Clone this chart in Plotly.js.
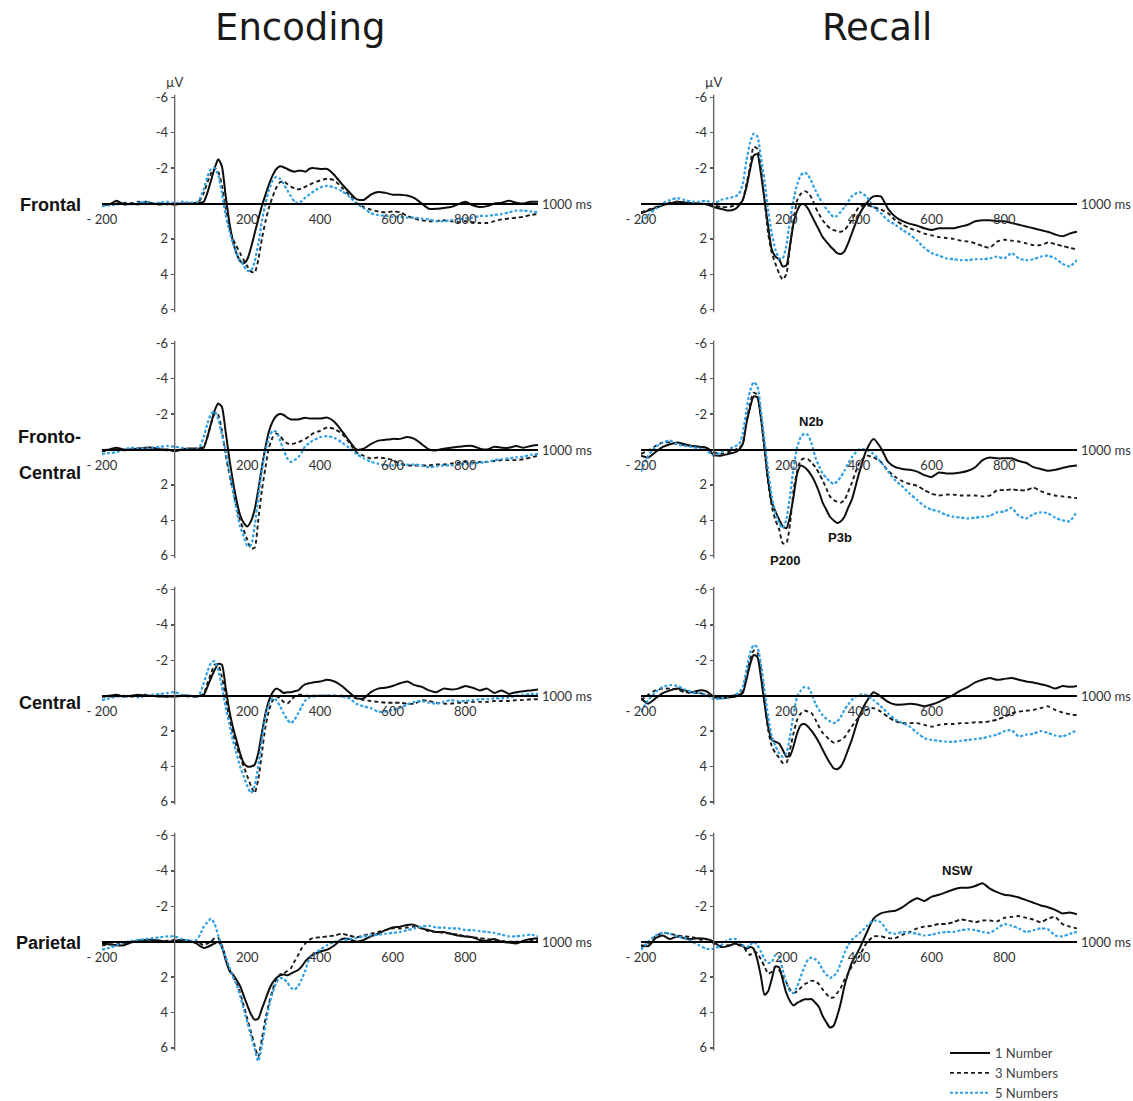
<!DOCTYPE html>
<html>
<head>
<meta charset="utf-8">
<script src="https://cdn.plot.ly/plotly-3.0.1.min.js"></script>
<style>
html,body{margin:0;padding:0;background:#fff;width:1133px;height:1101px;overflow:hidden;}
#chart{width:1133px;height:1125px;display:block;}
</style>
</head>
<body>
<div id="chart"></div>
<script>
// ---- time axis (ms) ----
const timeMs = [-200,-180,-160,-140,-120,-100,-80,-60,-40,-20,0,20,40,60,
 70,80,90,100,110,120,130,140,150,160,170,180,190,200,210,220,230,240,250,260,270,280,290,300,310,320,330,340,350,360,370,380,
 400,420,440,460,480,500,520,540,560,580,600,620,640,660,680,700,720,740,760,780,800,820,840,860,880,900,920,940,960,980,1000];

const seriesNames = ['1 Number', '3 Numbers', '5 Numbers'];
const columnTitles = ['Encoding', 'Recall'];
const rowLabels = [['Frontal'], ['Fronto-', 'Central'], ['Central'], ['Parietal']];
const yTickVals = [-6, -4, -2, 2, 4, 6];
const yTickText = ['-6', '-4', '-2', '2', '4', '6'];
const xTickVals = [-200, 200, 400, 600, 800];
const xTickText = ['- 200', '200', '400', '600', '800'];

// ---- Encoding, Frontal ----
const encFrontal1 = [0.05,0.05,-0.15,0.05,0,0.05,-0.1,0,0.05,0,0.05,0,0,0,
 -0.05,-0.1,-0.6,-1.3,-2.0,-2.5,-2.1,-0.5,1.0,2.1,2.8,3.25,3.38,3.15,2.5,1.7,0.9,0.15,-0.5,-1.1,-1.6,-1.95,-2.1,-2.05,-1.95,-1.85,-1.8,-1.85,-1.85,-1.8,-1.95,-2.0,
 -1.95,-1.95,-1.6,-1.1,-0.65,-0.25,-0.2,-0.5,-0.65,-0.6,-0.5,-0.5,-0.45,-0.3,0,0.3,0.3,0.25,0.2,0.05,-0.1,0.1,0.2,0.15,0,-0.05,-0.15,-0.05,0,-0.1,-0.1];
const encFrontal3 = [0.1,0.05,0,-0.05,0,-0.1,-0.05,0,0,0.05,0.05,0,0,-0.05,
 -0.2,-0.6,-1.2,-1.7,-2.0,-1.8,-1.0,0.2,1.3,2.0,2.4,2.8,3.2,3.55,3.85,3.9,3.2,2.0,1.0,0.2,-0.4,-0.9,-1.2,-1.25,-1.1,-0.95,-0.85,-0.8,-0.85,-0.95,-1.05,-1.15,
 -1.3,-1.4,-1.3,-0.9,-0.5,-0.05,0.2,0.35,0.45,0.5,0.45,0.5,0.7,0.85,0.95,1.0,1.0,0.95,1.0,1.05,1.0,1.05,1.1,1.1,1.0,0.9,0.85,0.8,0.75,0.65,0.6];
const encFrontal5 = [0.15,0.1,0.05,0,0.05,-0.05,-0.1,0,-0.05,-0.1,0,-0.1,-0.05,-0.05,
 -0.3,-0.8,-1.5,-1.95,-2.0,-1.6,-0.6,0.6,1.5,2.2,2.8,3.2,3.5,3.8,3.8,3.3,2.3,1.0,0.0,-0.8,-1.3,-1.5,-1.4,-1.1,-0.75,-0.4,-0.1,0.0,-0.15,-0.35,-0.5,-0.65,
 -0.9,-1.0,-0.9,-0.7,-0.4,0,0.25,0.55,0.65,0.7,0.75,0.75,0.8,0.8,0.85,0.9,1.0,1.0,0.95,0.9,0.85,0.8,0.7,0.7,0.65,0.6,0.5,0.4,0.4,0.45,0.5];

// ---- Recall, Frontal ----
const recFrontal1 = [0.55,0.4,0.25,0.1,0,-0.1,-0.05,0,0,0.05,0.2,0.3,0.4,0.3,
 0.1,-0.2,-0.9,-1.9,-2.7,-2.8,-1.7,-0.2,1.3,2.6,3.0,3.15,3.55,3.5,2.4,1.1,0.4,0.05,0.05,0.3,0.7,1.1,1.5,1.9,2.15,2.4,2.6,2.8,2.85,2.7,2.25,1.7,
 0.65,0.0,-0.4,-0.4,0.3,0.75,1.0,1.15,1.25,1.4,1.5,1.4,1.4,1.4,1.3,1.2,1.0,0.95,0.95,1.0,1.0,1.1,1.2,1.3,1.4,1.5,1.6,1.75,1.85,1.7,1.6];
const recFrontal3 = [0.5,0.35,0.2,0.05,-0.05,-0.1,-0.05,0,0,0.05,0.1,0.2,0.2,0.1,
 0.0,-0.2,-1.1,-2.05,-3.2,-3.1,-2.0,-0.2,1.7,2.8,3.4,3.95,4.3,4.0,2.4,0.95,-0.2,-0.55,-0.7,-0.6,-0.3,0.2,0.6,0.95,1.2,1.4,1.5,1.55,1.6,1.5,1.25,0.95,
 0.2,0.1,0.2,0.35,0.55,0.95,1.2,1.4,1.55,1.7,1.8,1.9,1.95,2.0,2.1,2.15,2.25,2.4,2.5,2.15,2.05,2.1,2.15,2.25,2.35,2.35,2.2,2.3,2.4,2.5,2.6];
const recFrontal5 = [1.1,0.65,0.3,0,-0.2,-0.3,-0.2,-0.1,-0.1,-0.15,0,-0.2,-0.3,-0.4,
 -0.55,-1.1,-2.4,-3.4,-3.95,-3.8,-2.6,-1.3,0.4,1.7,2.6,3.1,3.1,2.4,0.95,-0.2,-1.1,-1.6,-1.75,-1.6,-1.2,-0.75,-0.35,0.0,0.3,0.55,0.75,0.7,0.45,0.2,-0.1,-0.4,
 -0.65,-0.4,0.2,0.55,0.95,1.2,1.5,1.75,2.1,2.5,2.8,2.95,3.1,3.15,3.2,3.2,3.15,3.15,3.1,3.0,3.1,2.8,3.1,3.2,3.15,3.0,2.95,3.1,3.4,3.55,3.2];

// ---- Encoding, Fronto-Central ----
const encFrontoCentral1 = [0.05,0,-0.1,0,0,-0.05,-0.1,-0.1,0,0,0.1,0,-0.05,-0.05,
 -0.05,-0.1,-0.7,-1.45,-2.2,-2.6,-2.4,-1.05,0.45,1.75,2.85,3.7,4.15,4.35,4.05,3.4,2.3,1.0,-0.15,-1.05,-1.6,-1.9,-2.0,-1.95,-1.8,-1.7,-1.7,-1.7,-1.75,-1.8,-1.75,-1.75,
 -1.75,-1.8,-1.55,-1.05,-0.5,0.0,-0.05,-0.3,-0.5,-0.55,-0.6,-0.6,-0.7,-0.6,-0.3,0.0,0.05,-0.05,-0.1,-0.15,-0.2,-0.2,-0.05,0.0,-0.15,-0.1,-0.1,-0.2,-0.1,-0.2,-0.25];
const encFrontoCentral3 = [0.1,0.05,0,0.05,0,-0.05,-0.05,0,0,0.05,0.05,0,0,-0.05,
 -0.1,-0.15,-0.7,-1.45,-2.0,-1.95,-1.05,0.25,1.35,2.3,3.2,4.0,4.55,5.1,5.6,5.55,4.0,2.3,1.0,-0.15,-0.7,-0.9,-0.75,-0.5,-0.35,-0.3,-0.35,-0.4,-0.5,-0.6,-0.75,-0.9,
 -1.05,-1.25,-1.15,-0.9,-0.4,0.15,0.35,0.5,0.45,0.5,0.6,0.8,0.9,0.9,0.9,0.9,0.85,0.85,0.8,0.75,0.7,0.75,0.7,0.7,0.65,0.6,0.6,0.6,0.55,0.45,0.35];
const encFrontoCentral5 = [0.25,0.2,0.15,0,-0.1,-0.05,-0.05,-0.1,-0.15,-0.2,-0.15,-0.1,0,0,
 -0.2,-0.7,-1.45,-2.0,-2.15,-1.7,-0.85,0.05,1.2,2.3,3.4,4.35,4.9,5.45,5.4,4.35,2.7,1.2,0.05,-0.7,-1.05,-1.0,-0.5,0.05,0.5,0.7,0.6,0.45,0.15,-0.2,-0.35,-0.5,
 -0.7,-0.75,-0.65,-0.4,-0.1,0.25,0.5,0.7,0.8,0.9,0.9,0.85,0.85,0.85,0.9,1.0,0.95,0.9,0.9,0.85,0.8,0.8,0.75,0.7,0.6,0.55,0.5,0.45,0.4,0.3,0.25];

// ---- Recall, Fronto-Central ----
const recFrontoCentral1 = [0.35,0.45,0.15,-0.15,-0.3,-0.4,-0.3,-0.2,-0.15,-0.1,0.3,0.35,0.25,0.15,
 0.0,-0.3,-1.45,-2.35,-3.0,-2.95,-1.8,-0.1,1.75,3.0,3.5,3.95,4.35,4.45,3.8,2.65,1.35,0.9,1.0,1.2,1.5,1.9,2.4,3.0,3.4,3.8,4.0,4.15,4.05,3.8,3.3,2.85,
 1.35,0.05,-0.6,-0.1,0.7,1.0,1.1,1.15,1.25,1.45,1.55,1.3,1.35,1.35,1.3,1.2,1.0,0.6,0.45,0.5,0.5,0.5,0.65,0.75,1.0,1.1,1.2,1.15,1.05,0.95,0.9];
const recFrontoCentral3 = [0.25,0.05,-0.2,-0.4,-0.4,-0.3,-0.25,-0.2,-0.15,-0.1,0.15,0.25,0.15,0,
 -0.1,-0.3,-1.6,-2.55,-3.2,-3.1,-1.8,0.0,1.9,3.2,4.0,4.5,5.3,5.3,4.2,2.3,1.2,0.6,0.5,0.55,0.75,1.0,1.35,1.75,2.2,2.65,2.85,2.95,3.0,2.85,2.4,1.9,
 0.8,0.35,0.45,0.7,1.2,1.55,1.8,1.95,2.05,2.3,2.5,2.6,2.55,2.55,2.6,2.6,2.6,2.65,2.6,2.3,2.3,2.25,2.3,2.3,2.15,2.35,2.5,2.6,2.65,2.7,2.75];
const recFrontoCentral5 = [1.25,0.35,-0.15,-0.4,-0.5,-0.3,-0.2,-0.15,-0.05,0.05,0.35,0.15,0,-0.2,
 -0.3,-0.9,-2.2,-3.3,-3.8,-3.6,-2.2,-0.5,1.2,2.65,3.6,4.15,4.45,3.95,2.65,1.0,-0.15,-0.7,-0.9,-0.8,-0.3,0.45,0.95,1.35,1.6,1.8,1.95,1.8,1.55,1.2,0.8,0.45,
 0.0,0.0,0.25,0.7,1.25,1.75,2.1,2.5,2.85,3.2,3.4,3.5,3.7,3.8,3.85,3.9,3.85,3.8,3.75,3.55,3.5,3.3,3.75,3.9,3.65,3.55,3.6,3.85,4.0,4.05,3.5];

// ---- Encoding, Central ----
const encCentral1 = [0.05,0,-0.05,0.05,0,-0.05,0,0,0.05,0.05,0.05,0,0,0.05,
 0.0,-0.05,-0.5,-1.0,-1.45,-1.8,-1.75,-0.5,0.8,1.75,2.5,3.25,3.8,4.0,4.0,3.9,3.25,2.1,1.0,0.25,-0.2,-0.4,-0.3,-0.15,-0.2,-0.2,-0.25,-0.3,-0.5,-0.65,-0.7,-0.75,
 -0.8,-0.9,-0.8,-0.55,-0.2,0.15,0.15,-0.2,-0.4,-0.45,-0.55,-0.7,-0.8,-0.6,-0.5,-0.3,-0.2,-0.4,-0.35,-0.4,-0.55,-0.45,-0.3,-0.4,-0.15,-0.3,-0.1,-0.2,-0.25,-0.3,-0.35];
const encCentral3 = [0.05,0.05,0,0,0.05,0,-0.05,0,0,0.05,0,0,0.05,0.05,
 0.0,-0.1,-0.7,-1.25,-1.75,-1.75,-1.05,0.05,1.2,2.1,2.85,3.45,4.0,4.55,5.1,5.5,4.75,3.25,1.75,0.8,0.25,0.05,0.15,0.35,0.45,0.25,0.05,-0.05,-0.05,0.0,0.0,0.0,
 0,0,0,0,0.05,0.15,0.25,0.3,0.35,0.4,0.4,0.4,0.45,0.45,0.25,0.3,0.4,0.45,0.45,0.4,0.4,0.35,0.35,0.35,0.3,0.3,0.3,0.25,0.25,0.2,0.2];
const encCentral5 = [0.25,0.15,0.05,0.05,0,0.1,0,-0.05,-0.1,-0.15,-0.2,-0.05,0,0.05,
 -0.15,-0.7,-1.35,-1.85,-1.95,-1.45,-0.5,0.6,1.55,2.5,3.25,4.0,4.55,5.1,5.5,5.1,4.0,2.5,1.2,0.45,0.15,0.25,0.6,1.0,1.35,1.55,1.35,1.0,0.6,0.25,0.1,0.05,
 0,0,0,0.05,0.15,0.45,0.6,0.7,0.9,0.9,0.8,0.7,0.5,0.35,0.3,0.4,0.45,0.35,0.25,0.3,0.3,0.25,0.2,0.2,0.15,0.15,0.1,0,-0.05,-0.1,-0.1];

// ---- Recall, Central ----
const recCentral1 = [0.15,0.45,0.15,-0.15,-0.3,-0.4,-0.3,-0.2,-0.3,-0.25,0.05,0.15,0.1,0.05,
 -0.05,-0.15,-0.9,-1.75,-2.3,-2.2,-1.05,0.45,1.75,2.5,2.6,2.7,3.05,3.45,3.4,2.85,2.1,1.65,1.6,1.75,2.0,2.3,2.65,3.05,3.45,3.8,4.1,4.15,4.0,3.6,3.05,2.5,
 1.2,0.35,-0.2,0.05,0.35,0.5,0.5,0.45,0.5,0.6,0.5,0.35,0.15,-0.05,-0.3,-0.5,-0.75,-0.9,-1.0,-0.9,-0.95,-1.0,-0.9,-0.8,-0.75,-0.65,-0.55,-0.4,-0.55,-0.5,-0.55];
const recCentral3 = [0.25,-0.05,-0.3,-0.4,-0.4,-0.35,-0.2,-0.15,-0.15,-0.05,0.1,0.1,0.05,-0.05,
 -0.1,-0.25,-1.1,-2.0,-2.55,-2.45,-1.45,0.25,1.95,2.85,3.25,3.5,3.8,3.8,3.05,2.1,1.35,1.0,0.85,0.9,1.0,1.35,1.75,2.1,2.3,2.5,2.65,2.6,2.5,2.35,2.05,1.75,
 1.2,0.8,0.7,0.9,1.2,1.45,1.55,1.55,1.55,1.65,1.75,1.65,1.6,1.6,1.55,1.55,1.5,1.5,1.45,1.35,1.2,1.0,0.9,0.85,0.8,0.7,0.6,0.8,0.95,1.05,1.1];
const recCentral5 = [0.9,0.25,-0.2,-0.5,-0.6,-0.55,-0.35,-0.2,-0.15,-0.05,0.2,0.15,0.05,-0.05,
 -0.2,-0.5,-1.45,-2.4,-2.85,-2.75,-1.8,-0.3,1.2,2.3,2.85,3.25,3.45,3.25,2.3,1.0,0.05,-0.3,-0.5,-0.45,-0.1,0.45,0.8,1.1,1.3,1.45,1.55,1.45,1.2,0.8,0.5,0.25,
 -0.05,-0.05,0.25,0.6,1.0,1.35,1.55,1.75,2.1,2.4,2.5,2.55,2.6,2.6,2.55,2.5,2.45,2.4,2.3,2.2,2.0,1.95,2.3,2.2,2.15,2.0,2.1,2.25,2.3,2.15,1.95];

// ---- Encoding, Parietal ----
const encParietal1 = [0.1,0.15,0.2,0.2,0.05,-0.05,-0.1,-0.1,-0.05,0,-0.05,-0.1,-0.05,0.1,
 0.25,0.35,0.3,0.2,0.1,0.0,0.3,1.0,1.6,1.85,2.15,2.5,3.05,3.6,4.1,4.4,4.35,3.8,3.25,2.7,2.3,2.05,1.9,1.85,1.9,1.8,1.7,1.6,1.4,1.1,0.9,0.75,
 0.55,0.45,0.2,-0.15,-0.15,0.0,-0.1,-0.3,-0.45,-0.65,-0.8,-0.85,-0.95,-0.95,-0.75,-0.65,-0.55,-0.55,-0.45,-0.35,-0.3,-0.25,-0.1,-0.05,-0.15,0.0,0.05,0.1,-0.05,-0.15,-0.2];
const encParietal3 = [0.2,0.15,0.15,0.1,0,-0.05,-0.05,-0.05,-0.05,-0.05,-0.1,-0.1,0,0.05,
 0.1,0.2,0.1,0.0,-0.2,-0.2,0.2,0.85,1.6,1.95,2.3,2.9,3.6,4.35,5.1,5.85,6.5,5.5,4.35,3.45,2.7,2.15,1.85,1.8,1.65,1.5,1.1,0.75,0.35,0.1,-0.1,-0.2,
 -0.25,-0.3,-0.35,-0.45,-0.35,-0.25,-0.35,-0.45,-0.55,-0.65,-0.75,-0.75,-0.8,-0.85,-0.75,-0.6,-0.55,-0.5,-0.45,-0.4,-0.3,-0.25,-0.2,-0.15,-0.1,-0.05,0,0,0,-0.05,-0.1];
const encParietal5 = [0.45,0.35,0.2,0.05,-0.05,-0.1,-0.15,-0.2,-0.25,-0.3,-0.3,-0.15,-0.05,-0.1,
 -0.4,-0.85,-1.1,-1.3,-1.0,-0.35,0.3,0.85,1.4,1.95,2.4,3.05,3.8,4.55,5.3,6.05,6.75,5.85,4.7,3.6,2.85,2.3,2.05,2.1,2.3,2.6,2.7,2.5,2.1,1.6,1.0,0.75,
 0.45,0.2,0.0,-0.05,-0.15,-0.2,-0.3,-0.35,-0.4,-0.45,-0.5,-0.55,-0.65,-0.75,-0.85,-0.9,-0.8,-0.8,-0.75,-0.75,-0.65,-0.65,-0.6,-0.55,-0.5,-0.4,-0.3,-0.3,-0.35,-0.4,-0.3];

// ---- Recall, Parietal ----
const recParietal1 = [0.2,0.25,-0.2,-0.35,-0.15,-0.3,-0.2,-0.15,-0.2,-0.15,0,0.3,0.25,0.1,
 0.2,0.25,0.4,0.3,0.4,1.0,1.95,3.0,2.8,2.1,1.4,1.45,2.15,2.9,3.35,3.6,3.45,3.35,3.25,3.25,3.25,3.45,3.7,4.2,4.55,4.85,4.75,4.2,3.45,2.5,1.8,1.2,
 0.45,-0.45,-1.3,-1.6,-1.7,-1.75,-1.95,-2.25,-2.45,-2.3,-2.55,-2.65,-2.8,-2.95,-3.05,-3.05,-3.15,-3.3,-3.0,-2.8,-2.65,-2.6,-2.5,-2.35,-2.2,-2.05,-1.95,-1.8,-1.6,-1.65,-1.55];
const recParietal3 = [0.3,0.1,-0.3,-0.5,-0.45,-0.35,-0.3,-0.25,-0.15,0,0.1,0.25,0.2,0.1,
 0.15,0.2,0.55,0.75,0.55,0.65,1.0,1.4,1.8,1.7,1.4,1.6,1.95,2.3,2.7,2.9,2.8,2.6,2.4,2.3,2.2,2.25,2.4,2.7,2.95,3.15,3.15,2.9,2.6,2.15,1.8,1.4,
 0.85,0.1,-0.3,-0.3,-0.2,-0.2,-0.4,-0.55,-0.75,-0.85,-0.9,-1.0,-1.0,-1.1,-1.25,-1.2,-1.1,-1.2,-1.2,-1.15,-1.35,-1.4,-1.45,-1.35,-1.25,-1.1,-1.3,-1.4,-1.0,-0.85,-0.75];
const recParietal5 = [0.45,0,-0.35,-0.5,-0.45,-0.3,-0.2,0,0.2,0.4,0.4,0.2,-0.1,-0.15,
 0.0,0.2,0.3,0.2,0.0,0.2,0.55,1.0,1.2,1.15,0.75,0.85,1.6,2.3,2.8,2.9,2.5,1.95,1.4,1.0,0.9,1.0,1.2,1.6,1.85,2.05,1.95,1.7,1.2,0.65,0.2,-0.1,
 -0.45,-0.85,-1.2,-1.1,-0.55,-0.45,-0.55,-0.5,-0.45,-0.35,-0.4,-0.5,-0.55,-0.55,-0.65,-0.7,-0.65,-0.55,-0.5,-0.75,-1.0,-0.9,-0.75,-0.55,-0.65,-0.75,-0.7,-0.35,-0.3,-0.45,-0.55];

// ---- panel arrangement ----
const panels = [
  {col:0, row:0, data:[encFrontal1, encFrontal3, encFrontal5]},
  {col:1, row:0, data:[recFrontal1, recFrontal3, recFrontal5]},
  {col:0, row:1, data:[encFrontoCentral1, encFrontoCentral3, encFrontoCentral5]},
  {col:1, row:1, data:[recFrontoCentral1, recFrontoCentral3, recFrontoCentral5]},
  {col:0, row:2, data:[encCentral1, encCentral3, encCentral5]},
  {col:1, row:2, data:[recCentral1, recCentral3, recCentral5]},
  {col:0, row:3, data:[encParietal1, encParietal3, encParietal5]},
  {col:1, row:3, data:[recParietal1, recParietal3, recParietal5]}
];

// peak labels: [panel index, time, value, text]
const peakLabels = [
  [3, 268, -1.6, 'N2b'],
  [3, 196, 6.25, 'P200'],
  [3, 348, 4.95, 'P3b'],
  [7, 672, -4.05, 'NSW']
];

// ---- layout geometry (pixels from the top-left of the window) ----
const W = 1133;
const HP = 1125;            // plot height; the window shows the top 1101 px
const colPx = [[102, 538], [641, 1077]];
const rowZeroPx = [203.5, 449.5, 695.7, 941.7];
const pxPerUV = 17.7;
const yRange = [7.0, -6.4];
const xRange = [-200, 1000];
const fy = px => 1 - px / HP;

const lineStyles = [
  {color:'#0d0d0d', width:2.0, dash:'solid'},
  {color:'#1a1a1a', width:1.9, dash:'4px,3px'},
  {color:'#2f9fe3', width:2.2, dash:'3px,2px'}
];

const tickFont = {family:'Lato, "Open Sans", sans-serif', size:13, color:'#333'};

const traces = [];
const layout = {
  width: W, height: HP, autosize: false,
  margin: {l:0, r:0, t:0, b:0},
  paper_bgcolor: '#fff', plot_bgcolor: 'rgba(0,0,0,0)',
  showlegend: true,
  legend: {x: 945/W, y: fy(1038), xanchor:'left', yanchor:'top',
           font: {family:'Lato, "Open Sans", sans-serif', size:13, color:'#444'},
           bgcolor:'rgba(0,0,0,0)', tracegroupgap:0, itemwidth:40},
  shapes: [], annotations: []
};

panels.forEach((p, i) => {
  const n = i + 1;
  const xs = n === 1 ? '' : String(n);
  const xd = [colPx[p.col][0] / W, colPx[p.col][1] / W];
  const z = rowZeroPx[p.row];
  const bottomPx = z + yRange[0] * pxPerUV;
  const topPx = z + yRange[1] * pxPerUV;
  const yd = [fy(bottomPx), fy(topPx)];
  const zeroFracY = yd[0] + (yRange[0] - 0) / (yRange[0] - yRange[1]) * (yd[1] - yd[0]);
  const zeroFracX = xd[0] + (0 - xRange[0]) / (xRange[1] - xRange[0]) * (xd[1] - xd[0]);

  layout['xaxis' + xs] = {
    domain: xd, range: xRange, anchor: 'free', position: zeroFracY,
    showline: true, linecolor: '#000', linewidth: 2.4,
    showgrid: false, zeroline: false, fixedrange: true,
    tickmode: 'array', tickvals: xTickVals, ticktext: xTickText,
    ticks: 'outside', ticklen: 3, tickcolor: 'rgba(0,0,0,0)',
    tickfont: tickFont
  };
  layout['yaxis' + xs] = {
    domain: yd, range: yRange, anchor: 'free', position: zeroFracX,
    showline: false, showgrid: false, zeroline: false, fixedrange: true,
    tickmode: 'array', tickvals: yTickVals, ticktext: yTickText,
    ticks: 'outside', ticklen: 4, tickwidth: 1.4, tickcolor: '#555',
    tickfont: tickFont
  };

  // vertical amplitude axis line at t = 0
  layout.shapes.push({type:'line', xref:'x' + xs, yref:'y' + xs, x0:0, x1:0, y0:-6.15, y1:6.15,
    line:{color:'#666', width:1.4}, layer:'above'});

  p.data.forEach((vals, k) => {
    traces.push({
      type: 'scatter', mode: 'lines', x: timeMs, y: vals,
      xaxis: 'x' + xs, yaxis: 'y' + xs,
      name: seriesNames[k], legendgroup: seriesNames[k], showlegend: i === 0,
      line: Object.assign({shape: 'spline', smoothing: 0.6}, lineStyles[k]),
      hoverinfo: 'skip'
    });
  });

  layout.annotations.push({xref:'x' + xs, yref:'y' + xs, x:1000, y:0, xanchor:'left', yanchor:'middle',
    xshift:2, text:'1000 ms', showarrow:false, font:tickFont});
  if (p.row === 0) {
    layout.annotations.push({xref:'x' + xs, yref:'y' + xs, x:0, y:-6, xanchor:'center', yanchor:'bottom',
      yshift:5, text:'µV', showarrow:false, font:tickFont});
  }
});

// column titles
const titleCentersPx = [300, 877];
columnTitles.forEach((t, c) => {
  layout.annotations.push({xref:'paper', yref:'paper', x: titleCentersPx[c] / W, y: fy(28),
    xanchor:'center', yanchor:'middle', text: t, showarrow:false,
    font:{family:'"DejaVu Sans", Lato, sans-serif', size:37, color:'#1a1a1a'}});
});

// row labels
const rowLabelYPx = [[205], [437, 473], [703], [943]];
rowLabels.forEach((lines, r) => {
  lines.forEach((txt, j) => {
    layout.annotations.push({xref:'paper', yref:'paper', x: 83 / W, y: fy(rowLabelYPx[r][j]),
      xanchor:'right', yanchor:'middle', text: txt, showarrow:false,
      font:{family:'"Liberation Sans", Arial, sans-serif', size:18, color:'#111', weight:700}});
  });
});

// component labels
peakLabels.forEach(([pi, t, v, txt]) => {
  const xs = pi === 0 ? '' : String(pi + 1);
  layout.annotations.push({xref:'x' + xs, yref:'y' + xs, x:t, y:v, xanchor:'center', yanchor:'middle',
    text: txt, showarrow:false,
    font:{family:'"Liberation Sans Narrow", "Liberation Sans", Arial, sans-serif', size:13, color:'#111', weight:700}});
});

Plotly.newPlot('chart', traces, layout, {staticPlot: true, displayModeBar: false});
</script>
</body>
</html>
